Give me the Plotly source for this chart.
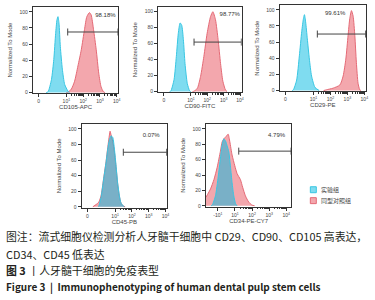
import plotly.graph_objects as go
import math

# ---------------- data ----------------
panel_names = ["CD105-APC", "CD90-FITC", "CD29-PE", "CD45-PB", "CD34-PE-CY7"]
pct_labels = ["98.18%", "98.77%", "99.61%", "0.07%", "4.79%"]
group_names = ["实验组", "同型对照组"]

# histogram x in axis display units (biexponential decades), y = % of mode
cd105_exp_x = [-0.2, -0.09, 0.11, 0.25, 0.36, 0.44, 0.50, 0.56, 0.64, 0.76, 0.90, 1.09, 1.19]
cd105_exp_y = [0, 1, 16, 41, 73, 90, 94, 86, 57, 29, 10, 2, 0]
cd105_iso_x = [1.0, 1.09, 1.29, 1.49, 1.69, 1.89, 2.08, 2.22, 2.38, 2.48, 2.62, 2.78, 2.93, 3.07, 3.21, 3.3]
cd105_iso_y = [0, 0.5, 4, 14, 33, 53, 78, 94, 99, 96, 78, 53, 24, 7, 1, 0]

cd90_exp_x = [-0.3, -0.23, -0.03, 0.11, 0.23, 0.34, 0.44, 0.54, 0.64, 0.78, 0.92, 0.98]
cd90_exp_y = [0, 0.5, 15, 44, 73, 86, 83, 65, 35, 10, 1, 0]
cd90_iso_x = [1.1, 1.19, 1.39, 1.59, 1.79, 1.99, 2.20, 2.34, 2.50, 2.66, 2.81, 2.95, 3.11, 3.2]
cd90_iso_y = [0, 0.5, 4, 19, 44, 73, 94, 100, 90, 65, 35, 13, 2, 0]

cd29_exp_x = [-0.25, -0.18, 0.01, 0.17, 0.31, 0.41, 0.47, 0.54, 0.64, 0.76, 0.89, 1.09, 1.34]
cd29_exp_y = [0, 1, 13, 43, 73, 89, 94, 85, 64, 39, 18, 4, 0]
cd29_iso_x = [1.6, 1.77, 2.16, 2.56, 2.75, 2.91, 3.04, 3.14, 3.24, 3.34, 3.44, 3.53, 3.63, 3.73, 3.8]
cd29_iso_y = [0, 1, 3, 7, 18, 39, 68, 89, 99, 92, 68, 35, 9, 1, 0]

cd45_exp_x = [0.0, 0.03, 0.17, 0.30, 0.46, 0.56, 0.66, 0.76, 0.86, 0.96, 1.06, 1.15, 1.25, 1.35, 1.49, 1.55]
cd45_exp_y = [0, 1, 13, 33, 57, 74, 86, 91, 89, 74, 52, 31, 15, 5, 1, 0]
cd45_iso_x = [-0.33, -0.13, 0.03, 0.17, 0.30, 0.46, 0.56, 0.66, 0.70, 0.76, 0.86, 0.96, 1.06, 1.15, 1.25, 1.35, 1.49, 1.6]
cd45_iso_y = [0, 3, 6, 15, 34, 58, 76, 92, 97, 92, 84, 70, 50, 30, 14, 5, 1, 0]

cd34_exp_x = [-1.40, -1.33, -1.14, -0.98, -0.85, -0.75, -0.65, -0.55, -0.46, -0.36, -0.26, -0.17, -0.07, 0.03, 0.12]
cd34_exp_y = [0, 1, 13, 38, 62, 79, 87, 84, 78, 70, 50, 30, 13, 3, 0]
cd34_iso_x = [-1.70, -1.43, -1.23, -1.04, -0.85, -0.75, -0.65, -0.52, -0.40, -0.30, -0.17, -0.01, 0.12, 0.22, 0.32, 0.45, 0.61, 0.80, 0.99, 1.15]
cd34_iso_y = [11, 22, 34, 50, 71, 83, 87, 90, 93, 83, 66, 52, 42, 38, 34, 24, 13, 5, 1, 0]

# gates (axis units)
gate_start = [1.08, 1.19, 1.23, 1.49, 0.22]
gate_end = [4.08, 4.08, 4.08, 4.08, 3.28]
gate_y = [75, 62, 70, 70, 71]
label_x = [3.33, 3.37, 2.28, 3.15, 2.43]
label_y = [96, 96, 95, 91, 91]

# axis ticks
tick_vals_a = [-0.65, 1, 2, 3, 4]
tick_text_a = ["0", "10<sup>1</sup>", "10<sup>2</sup>", "10<sup>3</sup>", "10<sup>4</sup>"]
tick_vals_b = [-1, 0, 1, 2, 3]
tick_text_b = ["-10<sup>1</sup>", "10<sup>1</sup>", "10<sup>2</sup>", "10<sup>3</sup>", "10<sup>4</sup>"]
y_ticks = [0, 20, 40, 60, 80, 100]

caption_1 = "图注：流式细胞仪检测分析人牙髓干细胞中 CD29、CD90、CD105 高表达，"
caption_2 = "CD34、CD45 低表达"
caption_3 = "<b>图 3</b> 丨人牙髓干细胞的免疫表型"
caption_4 = "<b>Figure 3  |  Immunophenotyping of human dental pulp stem cells</b>"

# ---------------- figure ----------------
CYAN_FILL = "rgba(0,185,225,0.5)"
CYAN_LINE = "#38c6e2"
RED_FILL = "rgba(232,80,92,0.5)"
RED_LINE = "#e46a76"
AX = "#333333"

series = [
    (cd105_exp_x, cd105_exp_y, cd105_iso_x, cd105_iso_y),
    (cd90_exp_x, cd90_exp_y, cd90_iso_x, cd90_iso_y),
    (cd29_exp_x, cd29_exp_y, cd29_iso_x, cd29_iso_y),
    (cd45_exp_x, cd45_exp_y, cd45_iso_x, cd45_iso_y),
    (cd34_exp_x, cd34_exp_y, cd34_iso_x, cd34_iso_y),
]

W, H = 375, 300
boxes = [  # pixel boxes: left, right, top, bottom
    (33, 119, 7, 94),
    (159, 243, 7, 93),
    (281, 368, 5, 92),
    (82, 168, 125, 209),
    (207, 293, 125, 208),
]
x_ranges = [[-1, 4.1]] * 4 + [[-1.7, 3.3]]

minor_a = [d + math.log10(k) for d in (1, 2, 3) for k in range(2, 10)]
minor_b = [d + math.log10(k) for d in (0, 1, 2) for k in range(2, 10)]

fig = go.Figure()
layout = dict(
    width=W, height=H, margin=dict(l=0, r=0, t=0, b=0),
    paper_bgcolor="white", plot_bgcolor="white", showlegend=False,
    font=dict(family="Liberation Sans, Arial", color="#333333", size=6),
)

for i, (ex, ey, ix, iy) in enumerate(series):
    n = "" if i == 0 else str(i + 1)
    xa, ya = "x" + n, "y" + n
    fig.add_trace(go.Scatter(x=ix, y=iy, xaxis=xa, yaxis=ya, mode="lines",
                             line=dict(color=RED_LINE, width=1, shape="spline", smoothing=0.6),
                             fill="tozeroy", fillcolor=RED_FILL, name=group_names[1],
                             hoverinfo="skip"))
    fig.add_trace(go.Scatter(x=ex, y=ey, xaxis=xa, yaxis=ya, mode="lines",
                             line=dict(color=CYAN_LINE, width=1, shape="spline", smoothing=0.6),
                             fill="tozeroy", fillcolor=CYAN_FILL, name=group_names[0],
                             hoverinfo="skip"))
    fig.add_trace(go.Scatter(x=[gate_start[i], gate_end[i]], y=[gate_y[i], gate_y[i]],
                             xaxis=xa, yaxis=ya, mode="lines+markers",
                             line=dict(color="#444444", width=1),
                             marker=dict(symbol="line-ns-open", size=5,
                                         line=dict(color="#444444", width=1)),
                             hoverinfo="skip"))
    fig.add_trace(go.Scatter(x=[label_x[i]], y=[label_y[i]], xaxis=xa, yaxis=ya,
                             mode="text", text=[pct_labels[i]],
                             textfont=dict(size=6, color="#333333"), hoverinfo="skip"))

    l, r, t, b = boxes[i]
    tv, tt, mn = (tick_vals_a, tick_text_a, minor_a) if i < 4 else (tick_vals_b, tick_text_b, minor_b)
    layout["xaxis" + n] = dict(
        domain=[l / W, r / W], anchor=ya, range=x_ranges[i],
        showline=True, linecolor=AX, linewidth=1, mirror=True,
        showgrid=False, zeroline=False,
        ticks="outside", ticklen=3, tickwidth=1, tickcolor=AX,
        tickvals=tv, ticktext=tt, tickfont=dict(size=5, color="#444444"),
        minor=dict(tickvals=mn, ticks="outside", ticklen=1.5, tickcolor=AX, showgrid=False),
        title=dict(text=panel_names[i], font=dict(size=6, color="#444444"), standoff=0),
        fixedrange=True,
    )
    layout["yaxis" + n] = dict(
        domain=[1 - b / H, 1 - t / H], anchor=xa, range=[-1, 106],
        showline=True, linecolor=AX, linewidth=1, mirror=True,
        showgrid=False, zeroline=False,
        ticks="outside", ticklen=3, tickwidth=1, tickcolor=AX,
        tickvals=y_ticks, tickfont=dict(size=5, color="#444444"),
        title=dict(text="Normalized To Mode", font=dict(size=6, color="#444444"), standoff=6),
        fixedrange=True,
    )

fig.update_layout(**layout)

# legend (drawn in figure space)
legend_items = [(group_names[0], CYAN_FILL, CYAN_LINE, 191), (group_names[1], RED_FILL, RED_LINE, 202)]
for name, fc, lc, py in legend_items:
    fig.add_shape(type="rect", xref="paper", yref="paper",
                  x0=312 / W, x1=318 / W, y0=1 - (py + 3) / H, y1=1 - (py - 3) / H,
                  fillcolor=fc, line=dict(color=lc, width=1))
    fig.add_annotation(x=321 / W, y=1 - py / H, xref="paper", yref="paper",
                       xanchor="left", yanchor="middle", showarrow=False, text=name,
                       font=dict(family="Noto Sans CJK SC", size=6, color="#444444"))

captions = [
    (caption_1, 238, 10.85),
    (caption_2, 256, 10.85),
    (caption_3, 272, 10.9),
    (caption_4, 288, 10.0),
]
for txt, py, sz in captions:
    fig.add_annotation(x=4 / W, y=1 - py / H, xref="paper", yref="paper",
                       xanchor="left", yanchor="middle", showarrow=False, text=txt,
                       font=dict(family="Noto Sans CJK SC", size=sz, color="#231f20"))

fig.write_html("out.html",
               config={"displayModeBar": False, "staticPlot": True},
               post_script="document.body.style.margin='0';document.body.style.overflow='hidden';")
